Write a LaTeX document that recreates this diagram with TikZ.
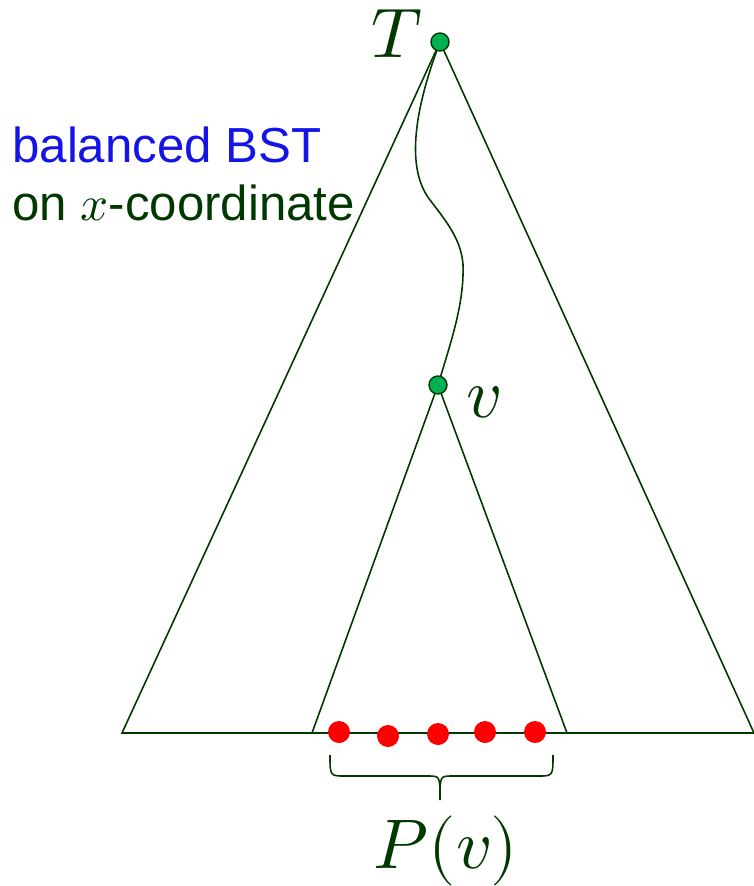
\documentclass[tikz,border=0pt]{standalone}
\usepackage{amsmath}
\usepackage{unicode-math}
\setmainfont{Liberation Sans}
\setmathfont{Latin Modern Math}
\usepackage{xcolor}
\usepackage{tikz}
\usetikzlibrary{positioning, calc}

\definecolor{treegreen}{RGB}{0,56,0}
\definecolor{nodegreen}{RGB}{0,176,80}
\definecolor{labelblue}{RGB}{20,20,230}

\begin{document}
\begin{tikzpicture}[
    x=0.02cm, y=-0.02cm,
    % Styles
    edge/.style={draw=treegreen, line width=0.9pt},
    treenode/.style={circle, draw=treegreen, fill=nodegreen, line width=0.8pt, minimum size=0.36cm, inner sep=0pt},
    point/.style={circle, fill=red, minimum size=0.44cm, inner sep=0pt},
    mathlabel/.style={text=treegreen, font=\fontsize{40}{44}\selectfont, inner sep=0pt},
    textlabel/.style={font=\fontsize{28}{34}\selectfont, anchor=west, inner sep=0pt}
]
\useasboundingbox (0,0) rectangle (754,886);

% --- Base corners ---
\coordinate (bigleft) at (122,733);
\coordinate (bigright) at (754,733);
\coordinate (subleft) at (312,733);
\coordinate (subright) at (567,733);

% --- Outer tree and subtree ---
\coordinate (root) at (440,42);
\coordinate (vpos) at (438,385);
\draw[edge] (bigleft) -- (root) -- (bigright) -- cycle;
\draw[edge] (subleft) -- (vpos) -- (subright);

% --- Search path from root down to v ---
\draw[edge] (root) .. controls (418,100) and (403,165) .. (430,200)
    .. controls (450,226) and (465,245) .. (463,275)
    .. controls (462,310) and (450,345) .. (vpos);

% --- Tree nodes ---
\node[treenode] (T) at (root) {};
\node[treenode] (v) at (vpos) {};
\node[mathlabel] (Tlabel) at (397,34) {$T$};
\node[mathlabel] (vlabel) at (484,402) {$v$};

% --- Points stored in the subtree ---
\foreach \px/\py [count=\i] in {339/732, 388/736, 438/734, 485/732, 535/732}
    \node[point] (p\i) at (\px,\py) {};

% --- Brace and P(v) ---
\draw[edge] (330,755) .. controls (330,776) .. (345,776) -- (428,776)
    .. controls (440,776) .. (440,800)
    .. controls (440,776) .. (452,776) -- (538,776)
    .. controls (553,776) .. (553,755);
\node[mathlabel] (Pv) at (446,851) {$P(v)$};

% --- Caption ---
\node[textlabel, text=labelblue] (caption1) at (12,145) {balanced BST};
\node[textlabel, text=treegreen] (caption2) at (12,203) {on $x$-coordinate};

\end{tikzpicture}
\end{document}
